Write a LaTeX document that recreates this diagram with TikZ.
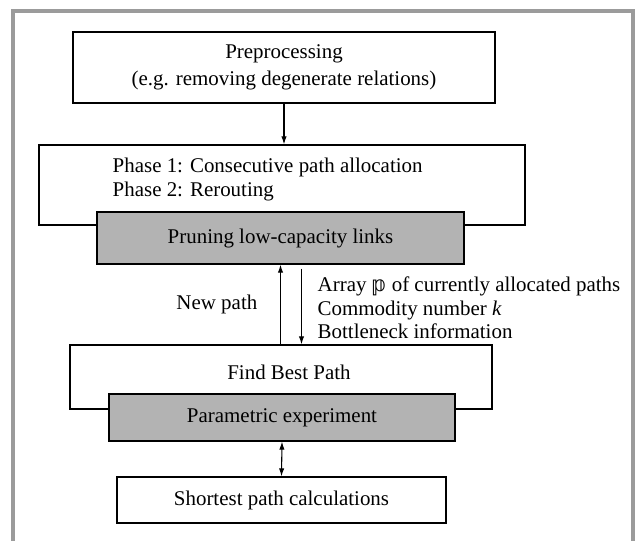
\documentclass[tikz,border=0pt]{standalone}
\usepackage{fontspec}
\setmainfont{Liberation Serif}
\newfontfamily\dejavu{DejaVu Sans}
\usetikzlibrary{arrows.meta,positioning}
\definecolor{boxgrey}{RGB}{179,179,179}
\definecolor{framegrey}{RGB}{155,155,155}
\tikzset{blok/.style={draw, line width=0.9pt, inner sep=0pt},
    grijs/.style={blok, fill=boxgrey},
    pijl/.style={line width=0.8pt, -{Latex[length=6pt,width=4pt]}},
    dubbelpijl/.style={line width=0.8pt, {Latex[length=6pt,width=4pt]}-{Latex[length=6pt,width=4pt]}}}

\begin{document}
\begin{tikzpicture}[x=0.75pt, y=-0.75pt, font=\fontsize{15.7}{20}\selectfont]
    \useasboundingbox (0,0) rectangle (643,541);

    %okvir
    \draw[framegrey, line width=3.4pt] (13,545) -- (13,11) -- (633,11) -- (633,545);

    %preprocessing
    \node[blok, minimum width=316.5pt, minimum height=53.25pt, align=center] (pre)
        at (284,67.5) {Preprocessing\\(e.g. removing degenerate relations)};

    %fazen
    \node[blok, minimum width=364.5pt, minimum height=60pt] (phase) at (282,185) {};
    \node[anchor=west, align=left, font=\fontsize{15.7}{18}\selectfont] (phasetxt)
        at (108,180) {Phase 1: Consecutive path allocation\\Phase 2: Rerouting};
    \node[grijs, minimum width=275.25pt, minimum height=39pt] (prune)
        at (280.5,238) {Pruning low-capacity links};

    %best path
    \node[blok, minimum width=316.5pt, minimum height=48pt] (find) at (281,377) {};
    \node (findtxt) at (289,372) {Find Best Path};
    \node[grijs, minimum width=259.5pt, minimum height=35.25pt] (param)
        at (282,417.5) {Parametric experiment};

    %shortest path
    \node[blok, minimum width=246.75pt, minimum height=34.5pt] (short)
        at (281.5,500) {Shortest path calculations};

    %pijlen
    \draw[pijl] (pre.south) -- (pre.south |- phase.north);
    \draw[pijl] (prune.south |- find.north) -- (prune.south);
    \draw[pijl] ([xshift=15.75pt,yshift=-3pt]prune.south) -- ([xshift=15.75pt]prune.south |- find.north);
    \draw[dubbelpijl] (param.south) -- (short.north);

    %labels
    \node[anchor=east] (newpath) at (262,304) {New path};
    \node[anchor=west, align=left, font=\fontsize{15.7}{17.6}\selectfont] (info)
        at (313,308) {Array {\dejavu 𝕡} of currently allocated paths\\
        Commodity number \textit{k}\\Bottleneck information};
\end{tikzpicture}
\end{document}
